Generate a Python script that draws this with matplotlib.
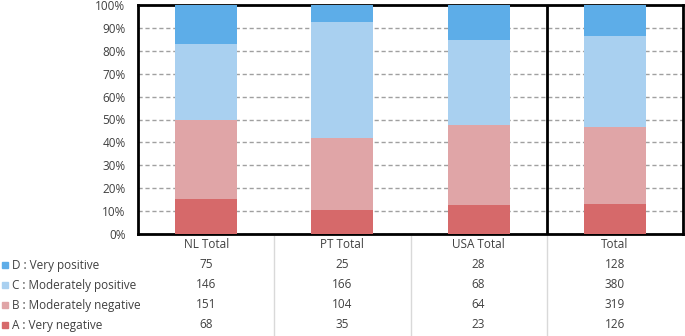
import matplotlib
matplotlib.use("Agg")
import matplotlib.pyplot as plt
import matplotlib.transforms as mtransforms
import numpy as np

plt.rcParams["font.family"] = ["Open Sans", "DejaVu Sans"]

groups = ["NL Total", "PT Total", "USA Total", "Total"]
series = ["A : Very negative", "B : Moderately negative",
          "C : Moderately positive", "D : Very positive"]
very_negative = [68, 35, 23, 126]
mod_negative = [151, 104, 64, 319]
mod_positive = [146, 166, 68, 380]
very_positive = [75, 25, 28, 128]
colors = ["#D6696A", "#E0A5A7", "#A9D0F0", "#5DADE8"]

counts = np.array([very_negative, mod_negative, mod_positive, very_positive], dtype=float)
shares = counts / counts.sum(axis=0) * 100

text_col = "#404040"
fig = plt.figure(figsize=(6.85, 3.36), dpi=100)
ax = fig.add_axes([138 / 685, 1 - 234 / 336, 545 / 685, 229 / 336])

x = np.arange(len(groups))
bottom = np.zeros(len(groups))
for vals, col in zip(shares, colors):
    ax.bar(x, vals, bottom=bottom, width=0.455, color=col, zorder=3)
    bottom += vals

ax.set_xlim(-0.5, len(groups) - 0.5)
ax.set_ylim(0, 100)
ax.set_yticks(np.arange(0, 101, 10))
ax.set_yticklabels([f"{v}%" for v in range(0, 101, 10)], fontsize=8.5, color=text_col)
ax.tick_params(axis="y", length=0, pad=9)
ax.set_xticks([])
ax.yaxis.grid(True, ls=(0, (3, 2)), color="#A0A0A0", lw=1, zorder=0)
for s in ax.spines.values():
    s.set_color("black")
    s.set_linewidth(2)
ax.axvline(2.5, color="black", lw=2, zorder=4)

# data table below the plot
trans = mtransforms.blended_transform_factory(ax.transData, fig.transFigure)
row_y = [1 - 245 / 336, 1 - 265 / 336, 1 - 285 / 336, 1 - 305 / 336, 1 - 325 / 336]
for i, g in enumerate(groups):
    ax.text(i, row_y[0], g, transform=trans, ha="center", va="center",
            fontsize=8.5, color=text_col, clip_on=False)
rows = list(reversed(range(len(series))))
for r, si in enumerate(rows):
    y = row_y[r + 1]
    fig.patches.append(plt.Rectangle((2 / 685, y - 3 / 336), 6 / 685, 6 / 336,
                                     transform=fig.transFigure, color=colors[si]))
    fig.text(12 / 685, y, series[si], ha="left", va="center",
             fontsize=8.5, color=text_col)
    for i in range(len(groups)):
        ax.text(i, y, f"{int(counts[si, i])}", transform=trans, ha="center",
                va="center", fontsize=8.5, color=text_col, clip_on=False)
for xb in [0.5, 1.5, 2.5]:
    ax.plot([xb, xb], [1 - 236 / 336, 0], transform=trans, color="#D9D9D9",
            lw=1, clip_on=False)

fig.savefig("out.png", dpi=100)
